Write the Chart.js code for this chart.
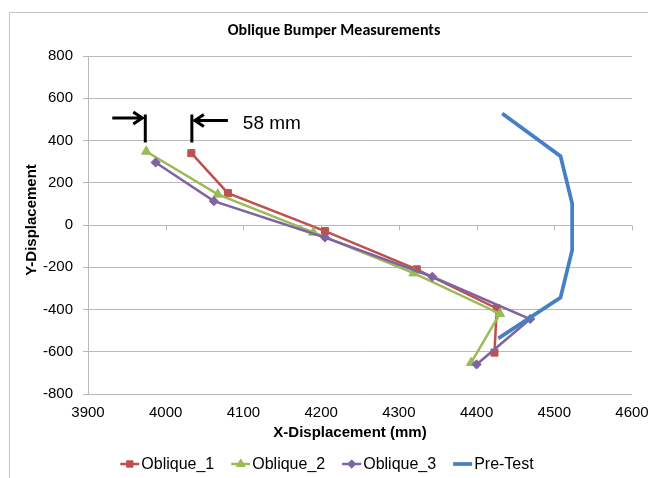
<!DOCTYPE html>
<html>
<head>
<meta charset="utf-8">
<script src="https://cdn.jsdelivr.net/npm/chart.js@4.4.1/dist/chart.umd.min.js"></script>
<style>
  html, body { margin: 0; padding: 0; background: #ffffff; }
  #wrap { width: 648px; height: 478px; position: relative; }
</style>
</head>
<body>
<div id="wrap"><canvas id="chart" width="648" height="478"></canvas></div>
<script>
// Bumper profile measurements (mm)
const seriesNames = ['Oblique_1', 'Oblique_2', 'Oblique_3', 'Pre-Test'];
const oblique1X = [4033, 4080, 4205, 4323, 4426, 4423];
const oblique1Y = [340, 151, -29, -210, -395, -604];
const oblique2X = [3975, 4067, 4190, 4319, 4430, 4393];
const oblique2Y = [348, 145, -35, -228, -420, -652];
const oblique3X = [3987, 4062, 4205, 4343, 4469, 4400];
const oblique3Y = [296, 113, -59, -245, -445, -660];
const preTestX = [4433, 4508, 4523, 4523, 4508, 4428];
const preTestY = [528, 326, 102, -119, -344, -537];

const xTicks = [3900, 4000, 4100, 4200, 4300, 4400, 4500, 4600];
const yTicks = [-800, -600, -400, -200, 0, 200, 400, 600, 800];

const chartTitle = 'Oblique Bumper Measurements';
const xTitle = 'X-Displacement (mm)';
const yTitle = 'Y-Displacement';
// Gap between the leading points of Oblique_2 and Oblique_1
const gapMm = oblique1X[0] - oblique2X[0];
const gapLabel = gapMm + ' mm';

const colors = ['#C0504D', '#9BBB59', '#8064A2', '#4580C4'];
const styles = ['rect', 'triangle', 'rectRot', false];
const radii = [5, 5.5, 4.6, 0];

const pairs = (xs, ys) => xs.map((x, i) => ({ x: x, y: ys[i] }));
const seriesData = [
  pairs(oblique1X, oblique1Y),
  pairs(oblique2X, oblique2Y),
  pairs(oblique3X, oblique3Y),
  pairs(preTestX, preTestY)
];

const datasets = seriesData.map((d, i) => ({
  label: seriesNames[i],
  data: d,
  showLine: true,
  borderColor: colors[i],
  backgroundColor: colors[i],
  borderWidth: i === 3 ? 3.75 : 2.5,
  pointStyle: styles[i],
  pointRadius: radii[i],
  pointHoverRadius: radii[i],
  pointBorderWidth: 1,
  pointBackgroundColor: colors[i],
  pointBorderColor: colors[i],
  order: 4 - i
}));

const TXT = '#000000';
const GRID = '#b9b9b9';
const AX_FONT = '"Liberation Sans", Arial, sans-serif';

const decor = {
  id: 'decor',
  beforeDraw(chart) {
    const ctx = chart.ctx;
    ctx.save();
    ctx.fillStyle = '#ffffff';
    ctx.fillRect(0, 0, chart.width, chart.height);
    // outer chart frame
    ctx.strokeStyle = '#c4c4c4';
    ctx.lineWidth = 1;
    ctx.beginPath();
    ctx.moveTo(9.5, chart.height + 5);
    ctx.lineTo(9.5, 12.5);
    ctx.lineTo(chart.width + 5, 12.5);
    ctx.stroke();
    ctx.restore();
  },
  beforeDatasetsDraw(chart) {
    // tick marks along the horizontal axis at y = 0
    const ctx = chart.ctx, xs = chart.scales.x, ys = chart.scales.y;
    const y0 = Math.round(ys.getPixelForValue(0)) + 0.5;
    ctx.save();
    ctx.strokeStyle = GRID;
    ctx.lineWidth = 1;
    ctx.beginPath();
    ctx.moveTo(xs.left, y0);
    ctx.lineTo(xs.right, y0);
    xTicks.forEach(v => {
      const px = Math.round(xs.getPixelForValue(v)) + 0.5;
      ctx.moveTo(px, y0);
      ctx.lineTo(px, y0 + 5);
    });
    ctx.stroke();
    ctx.restore();
  },
  afterDatasetsDraw(chart) {
    // dimension marks for the gap between the first points
    const ctx = chart.ctx, xs = chart.scales.x, ys = chart.scales.y;
    const xa = xs.getPixelForValue(oblique2X[0]) - 1;
    const xb = xs.getPixelForValue(oblique1X[0]) + 0.5;
    const top = ys.getPixelForValue(oblique2Y[0]) - 37;
    const bot = ys.getPixelForValue(oblique2Y[0]) - 9;
    ctx.save();
    ctx.strokeStyle = '#000000';
    ctx.lineWidth = 3;
    ctx.lineCap = 'butt';
    ctx.beginPath();
    ctx.moveTo(xa, top); ctx.lineTo(xa, bot);
    ctx.moveTo(xb, top); ctx.lineTo(xb, bot);
    // left arrow pointing right
    const ya = top + 3.5;
    ctx.moveTo(xa - 33, ya); ctx.lineTo(xa - 3, ya);
    ctx.moveTo(xa - 12, ya - 6); ctx.lineTo(xa - 3, ya); ctx.lineTo(xa - 12, ya + 6);
    // right arrow pointing left
    const yb = top + 6;
    ctx.moveTo(xb + 36, yb); ctx.lineTo(xb + 3, yb);
    ctx.moveTo(xb + 12, yb - 6); ctx.lineTo(xb + 3, yb); ctx.lineTo(xb + 12, yb + 6);
    ctx.stroke();
    ctx.fillStyle = '#000000';
    ctx.font = '19px ' + AX_FONT;
    ctx.textAlign = 'left';
    ctx.textBaseline = 'middle';
    ctx.fillText(gapLabel, xb + 51, yb + 3);
    ctx.restore();
  },
  afterDraw(chart) {
    const ctx = chart.ctx;
    ctx.save();
    // chart title
    ctx.fillStyle = TXT;
    ctx.textAlign = 'center';
    ctx.textBaseline = 'middle';
    ctx.font = 'bold 100px Carlito, Lato, sans-serif';
    const tw = ctx.measureText(chartTitle).width;
    const ts = Math.min(16, 226 / tw * 100);
    ctx.font = 'bold ' + ts.toFixed(2) + 'px Carlito, Lato, sans-serif';
    ctx.fillText(chartTitle, 334, 31);

    // axis titles
    ctx.font = 'bold 15px ' + AX_FONT;
    ctx.fillText(xTitle, 350, 433);
    ctx.save();
    ctx.translate(32, 220);
    ctx.rotate(-Math.PI / 2);
    ctx.fillText(yTitle, 0, 0);
    ctx.restore();

    // legend
    ctx.font = '16px ' + AX_FONT;
    ctx.textAlign = 'left';
    const lineLen = 19, gap = 2, itemGap = 17;
    const widths = seriesNames.map(n => lineLen + gap + ctx.measureText(n).width);
    const total = widths.reduce((a, b) => a + b, 0) + itemGap * (widths.length - 1);
    let x = 327 - total / 2;
    const ly = 464;
    chart.data.datasets.forEach((ds, i) => {
      ctx.strokeStyle = ds.borderColor;
      ctx.lineWidth = ds.borderWidth;
      ctx.beginPath();
      ctx.moveTo(x, ly);
      ctx.lineTo(x + lineLen, ly);
      ctx.stroke();
      if (ds.pointStyle) {
        ctx.fillStyle = ds.pointBackgroundColor;
        ctx.strokeStyle = ds.pointBorderColor;
        ctx.lineWidth = 1;
        Chart.helpers.drawPoint(ctx, {
          pointStyle: ds.pointStyle,
          radius: ds.pointRadius * 0.9,
          borderWidth: 1,
          rotation: 0
        }, x + lineLen / 2, ly);
      }
      ctx.fillStyle = TXT;
      ctx.fillText(ds.label, x + lineLen + gap, ly + 1);
      x += widths[i] + itemGap;
    });
    ctx.restore();
  }
};

new Chart(document.getElementById('chart'), {
  type: 'scatter',
  data: { datasets: datasets },
  plugins: [decor],
  options: {
    responsive: false,
    devicePixelRatio: 1,
    animation: false,
    events: [],
    layout: { padding: { left: 0, right: 16, top: 56, bottom: 0 } },
    plugins: {
      legend: { display: false },
      title: { display: false },
      tooltip: { enabled: false }
    },
    scales: {
      x: {
        type: 'linear',
        min: 3900,
        max: 4600,
        afterBuildTicks: s => { s.ticks = xTicks.map(v => ({ value: v })); },
        afterFit: s => { s.height = 84; s.paddingLeft = 0; s.paddingRight = 0; },
        grid: { display: false, drawTicks: false },
        border: { display: false },
        ticks: {
          color: TXT,
          padding: 10,
          maxRotation: 0,
          callback: v => String(v),
          font: { family: AX_FONT, size: 15 }
        }
      },
      y: {
        type: 'linear',
        min: -800,
        max: 800,
        afterBuildTicks: s => { s.ticks = yTicks.map(v => ({ value: v })); },
        afterFit: s => { s.width = 88; s.paddingTop = 0; s.paddingBottom = 0; },
        grid: { color: GRID, lineWidth: 1, drawTicks: true, tickLength: 5 },
        border: { display: true, color: GRID, width: 1 },
        ticks: {
          color: TXT,
          padding: 10,
          callback: v => String(v),
          font: { family: AX_FONT, size: 15 }
        }
      }
    }
  }
});
</script>
</body>
</html>
